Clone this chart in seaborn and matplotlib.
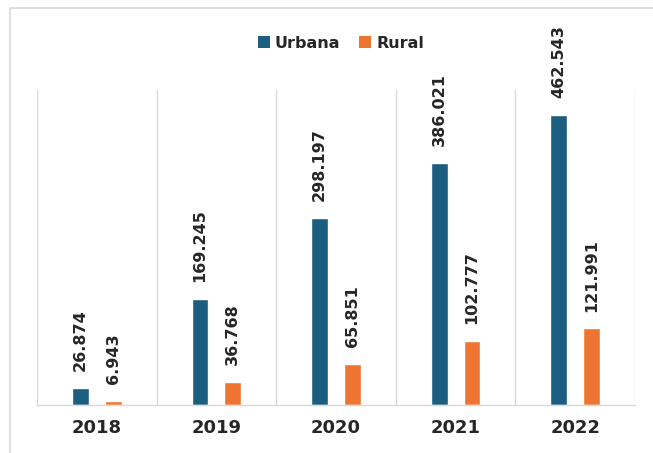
import matplotlib
matplotlib.use("Agg")
import matplotlib.pyplot as plt
import seaborn as sns
import pandas as pd
from matplotlib.lines import Line2D
from matplotlib.patches import Patch

years = ["2018", "2019", "2020", "2021", "2022"]
series_names = ["Urbana", "Rural"]
urbana = [26.874, 169.245, 298.197, 386.021, 462.543]
rural = [6.943, 36.768, 65.851, 102.777, 121.991]
colors = ["#1b5e7f", "#ee7531"]

df = pd.DataFrame({
    "year": years * 2,
    "area": [series_names[0]] * len(years) + [series_names[1]] * len(years),
    "value": urbana + rural,
})

sns.set_theme(style="white")
plt.rcParams["font.family"] = ["DejaVu Sans"]

fig = plt.figure(figsize=(6.53, 4.53), dpi=100)
ax = fig.add_axes([37 / 653, 1 - 405 / 453, (635 - 37) / 653, (405 - 90) / 453])

sns.barplot(data=df, x="year", y="value", hue="area", palette=colors,
            width=0.55, gap=0.49, ax=ax, legend=False, saturation=1)

grid_c = "#d9d9d9"
for i in range(len(years) + 1):
    ax.axvline(i - 0.5, color=grid_c, lw=1, zorder=0)

ax.set_xlim(-0.5, len(years) - 0.5)
ax.set_ylim(0, 502)
ax.set_xlabel("")
ax.set_ylabel("")
ax.set_yticks([])
for s in ["top", "right", "left"]:
    ax.spines[s].set_visible(False)
ax.spines["bottom"].set_color(grid_c)
ax.spines["bottom"].set_linewidth(1)
ax.tick_params(axis="x", length=0, pad=10)
for lab in ax.get_xticklabels():
    lab.set_fontweight("bold")
    lab.set_fontsize(13)
    lab.set_color("#262626")

for cont in ax.containers:
    ax.bar_label(cont, fmt="{:.3f}", rotation=90, padding=12,
                 fontweight="bold", fontsize=11.5, color="#262626")

handles = [Patch(facecolor=c, edgecolor="none") for c in colors]
ax.legend(handles, series_names, loc="center", bbox_to_anchor=(341 / 653, 1 - 43 / 453),
          bbox_transform=fig.transFigure, ncol=2, frameon=False,
          handlelength=0.75, handleheight=0.75, handletextpad=0.3, columnspacing=1.2,
          prop={"weight": "bold", "size": 11.5})
for t in ax.get_legend().get_texts():
    t.set_color("#262626")

fig.add_artist(Line2D([10 / 653, 1], [1 - 8 / 453, 1 - 8 / 453], color=grid_c, lw=1.2,
                      transform=fig.transFigure))
fig.add_artist(Line2D([10 / 653, 10 / 653], [0, 1 - 8 / 453], color=grid_c, lw=1.2,
                      transform=fig.transFigure))

fig.savefig("out.png", dpi=100)
